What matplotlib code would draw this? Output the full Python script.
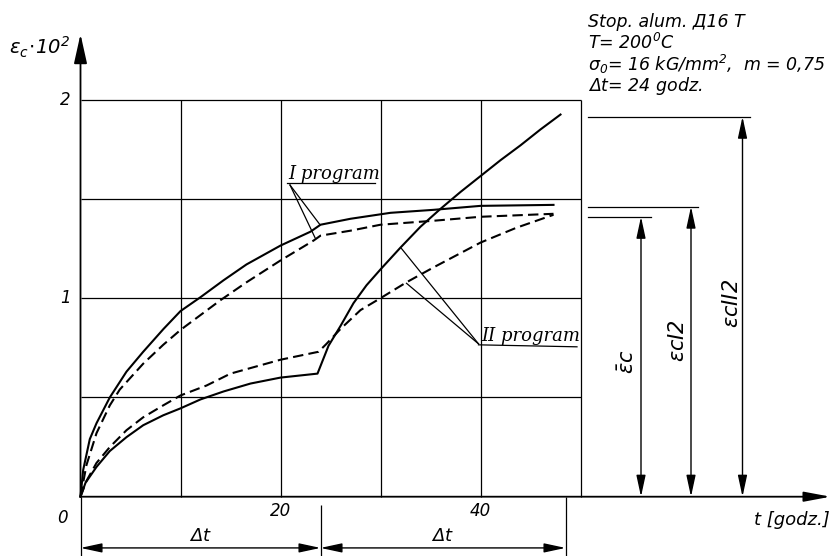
import numpy as np
import matplotlib
matplotlib.use("Agg")
import matplotlib.pyplot as plt

plt.rcParams['font.family'] = ['DejaVu Sans']
plt.rcParams['font.style'] = 'italic'
plt.rcParams['mathtext.fontset'] = 'custom'
plt.rcParams['mathtext.rm'] = 'DejaVu Sans:italic'
plt.rcParams['mathtext.it'] = 'DejaVu Sans:italic'

# creep curves, t [godz.] vs eps_c * 10^2
# program I
t_I_solid = [0, 0.27, 0.93, 1.6, 2.93, 4.6, 6.27, 8.3, 10, 12, 14.3, 16.6, 20, 23, 24,
             27, 31, 35.3, 40, 47.3]
e_I_solid = [0, 0.135, 0.29, 0.37, 0.50, 0.63, 0.73, 0.845, 0.935, 1.005, 1.09, 1.17, 1.265, 1.335, 1.37,
             1.40, 1.43, 1.445, 1.465, 1.47]
t_I_dash = [0, 0.6, 1.6, 2.93, 3.93, 6.27, 8.27, 10, 14, 16.6, 20, 23.3, 24,
            27, 30, 35.3, 40, 47.3]
e_I_dash = [0, 0.16, 0.32, 0.46, 0.54, 0.67, 0.765, 0.84, 0.99, 1.08, 1.19, 1.29, 1.315,
            1.34, 1.37, 1.39, 1.41, 1.425]
# program II
t_II_solid = [0, 0.5, 1.6, 2.93, 4.6, 6.27, 8.27, 10, 12, 14.3, 17, 20, 23.7,
              24.8, 26.0, 27.3, 28.6, 30, 32, 34, 36, 38, 40, 42, 44, 46, 48]
e_II_solid = [0, 0.07, 0.15, 0.23, 0.30, 0.36, 0.41, 0.445, 0.49, 0.53, 0.57, 0.60, 0.62,
              0.76, 0.86, 0.975, 1.065, 1.145, 1.255, 1.36, 1.45, 1.535, 1.615, 1.695, 1.77, 1.85, 1.925]
t_II_dash = [0, 0.6, 1.6, 2.93, 4.6, 6.27, 8.27, 10, 12.6, 15, 20, 23.8,
             24.6, 26, 28, 30, 32.6, 35.3, 40, 43.6, 47.3]
e_II_dash = [0, 0.08, 0.17, 0.25, 0.335, 0.40, 0.46, 0.51, 0.56, 0.62, 0.69, 0.73,
             0.77, 0.845, 0.94, 1.0, 1.08, 1.155, 1.28, 1.355, 1.42]

grid_t = [10, 20, 30, 40, 50]
grid_e = [0.5, 1.0, 1.5, 2.0]
xtick_vals = [20, 40]
ytick_vals = [1, 2]

dt = 24
dim_t = [0, 24, 48.5]
# final strains marked on the right
eps_bar, eps_I2, eps_II2 = 1.41, 1.461, 1.914

fig = plt.figure(figsize=(8.32, 5.56), dpi=100)
ax = fig.add_axes([0, 0, 1, 1])
ax.set_xlim(-8.05, 75.15)
ax.set_ylim(-0.2987, 2.502)
ax.axis('off')

k = 'black'
# grid
ax.vlines(grid_t, 0, grid_e[-1], color=k, lw=0.9)
ax.hlines(grid_e, 0, grid_t[-1], color=k, lw=0.9)

# axes with arrows
ax.annotate('', xy=(0, 2.33), xytext=(0, 0),
            arrowprops=dict(arrowstyle='-|>,head_length=1.8,head_width=0.4',
                            lw=1.3, color=k, shrinkA=0, shrinkB=0))
ax.annotate('', xy=(75.0, 0), xytext=(0, 0),
            arrowprops=dict(arrowstyle='-|>,head_length=1.6,head_width=0.3',
                            lw=1.3, color=k, shrinkA=0, shrinkB=0))

# curves
ax.plot(t_I_solid, e_I_solid, color=k, lw=1.5)
ax.plot(t_I_dash, e_I_dash, color=k, lw=1.5, dashes=(5, 2.5))
ax.plot(t_II_solid, e_II_solid, color=k, lw=1.5)
ax.plot(t_II_dash, e_II_dash, color=k, lw=1.5, dashes=(5, 2.5))

# tick labels
for v in xtick_vals:
    ax.text(v, -0.07, str(v), ha='center', va='center', fontsize=12)
for v in ytick_vals:
    ax.text(-1.5, v, str(v), ha='center', va='center', fontsize=12)
ax.text(-1.85, -0.107, '0', ha='center', va='center', fontsize=12)

ax.text(-4.1, 2.265, r'$\varepsilon_c\!\cdot\!10^2$', ha='center', va='center', fontsize=14)
ax.text(74.9, -0.117, 't [godz.]', ha='right', va='center', fontsize=13)

# info block
info = ['Stop. alum. Д16 T', r'T= 200$^0$C',
        r'$\sigma_0$= 16 kG/mm$^2$,  m = 0,75', r'$\Delta t$= 24 godz.']
for i, s in enumerate(info):
    ax.text(50.75, 2.391 - 0.107 * i, s, ha='left', va='center', fontsize=12.5)

# program labels with leaders
lbl = dict(fontsize=13, family='DejaVu Serif', style='italic')
ax.text(20.8, 1.60, 'I program', ha='left', va='baseline', **lbl)
ax.plot([20.65, 29.45], [1.579, 1.579], color=k, lw=0.9)
ax.plot([20.95, 23.95], [1.57, 1.37], color=k, lw=0.9)
ax.plot([20.95, 23.45], [1.57, 1.305], color=k, lw=0.9)

ax.text(40.1, 0.785, 'II program', ha='left', va='baseline', **lbl)
ax.plot([39.8, 49.65], [0.765, 0.755], color=k, lw=0.9)
ax.plot([39.8, 32.1], [0.77, 1.25], color=k, lw=0.9)
ax.plot([39.8, 32.6], [0.77, 1.075], color=k, lw=0.9)

# dimension lines on the right
dim_arrow = dict(arrowstyle='<|-|>,head_length=1.3,head_width=0.28',
                 lw=1.0, color=k, shrinkA=0, shrinkB=0)
for val, tx, tend, lab, lx, ly in [(eps_bar, 56.05, 57.0, r'$\bar{\varepsilon}c$', 54.7, 0.68),
                                    (eps_I2, 61.05, 61.75, r'$\varepsilon cI2$', 59.8, 0.785),
                                    (eps_II2, 66.2, 66.95, r'$\varepsilon cII2$', 65.2, 0.975)]:
    ax.plot([50.75, tend], [val, val], color=k, lw=0.9)
    ax.annotate('', xy=(tx, val), xytext=(tx, 0), arrowprops=dim_arrow)
    ax.text(lx, ly, lab, rotation=90, ha='center', va='center', fontsize=15)

# bottom dimension: two intervals of dt
ax.vlines(dim_t[0], -0.3, 0, color=k, lw=0.9)
ax.vlines(dim_t[1], -0.3, -0.04, color=k, lw=0.9)
ax.vlines(dim_t[2], -0.3, 0, color=k, lw=0.9)
for a, b in zip(dim_t[:-1], dim_t[1:]):
    ax.annotate('', xy=(b, -0.258), xytext=(a, -0.258), arrowprops=dim_arrow)
    ax.text((a + b) / 2, -0.198, r'$\Delta t$', ha='center', va='center', fontsize=13)

fig.savefig('out.png', dpi=100)
